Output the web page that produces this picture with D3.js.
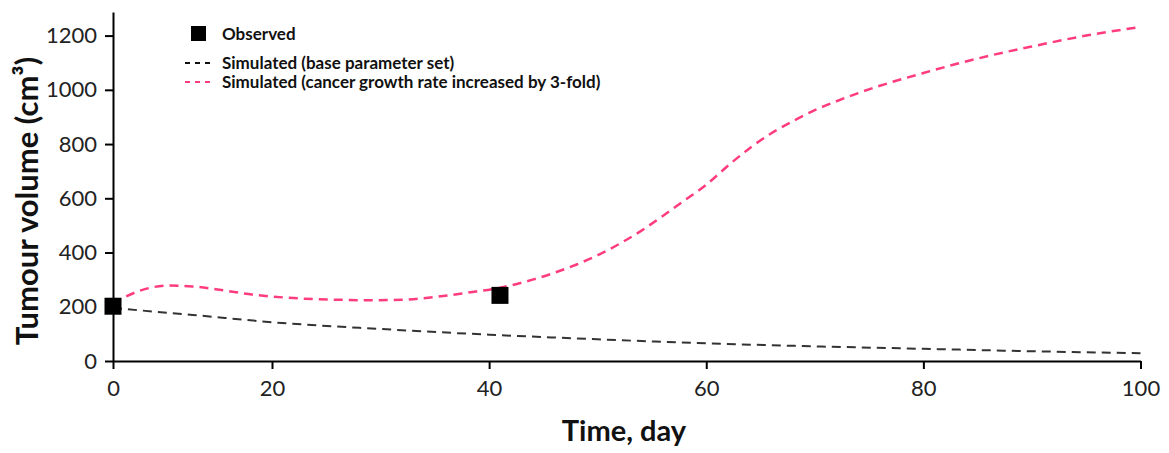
<!DOCTYPE html>
<html>
<head>
<meta charset="utf-8">
<title>Tumour volume</title>
<style type="text/css">
body {
	margin: 0;
	background: #fff;
}
text {
	font-family: Lato, "Open Sans", sans-serif;
}
.axis path, .axis line {
	stroke: #000;
	stroke-width: 2;
}
.axis text {
	font-size: 22px;
	fill: #222;
}
</style>
<script src="https://cdn.jsdelivr.net/npm/d3@7"></script>
</head>
<body>
<div id="chart"></div>

<script type="text/javascript">
	// observed points
	var obsDays = [0, 41];
	var obsVolume = [202, 242];

	// simulated, base parameter set
	var baseDays = [0, 10, 20, 30, 40, 50, 60, 70, 80, 90, 100];
	var baseVolume = [195, 170, 143, 118, 97, 80, 65, 54, 45, 36, 29];

	// simulated, growth rate x3
	var fastDays = [0, 1.5, 4, 7, 10, 14, 17.5, 22, 26, 29, 32, 35, 38, 41, 44, 48, 50, 52, 54, 56, 58, 60, 62, 64, 66, 68, 70, 72, 74, 76, 80, 83, 86, 90, 95, 100];
	var fastVolume = [212, 236, 265, 278, 275, 260, 245, 232, 226, 224, 226, 236, 252, 270, 300, 355, 390, 432, 480, 535, 592, 650, 720, 785, 840, 885, 925, 958, 988, 1015, 1062, 1095, 1125, 1160, 1200, 1232];

	var xTicks = [0, 20, 40, 60, 80, 100];
	var yTicks = [0, 200, 400, 600, 800, 1000, 1200];

	var legendLabels = ['Observed', 'Simulated (base parameter set)', 'Simulated (cancer growth rate increased by 3-fold)'];

	var width = 1169, height = 453;

	var svg = d3.select('#chart').append('svg')
		.attr('width', width)
		.attr('height', height);

	var x = d3.scaleLinear().domain([0, 20, 100]).range([113, 272, 1140.5]);
	var y = d3.scaleLinear().domain([0, 1287]).range([361, 12]);

	svg.append('g')
		.attr('class', 'axis')
		.attr('transform', 'translate(0,' + y(0) + ')')
		.call(d3.axisBottom(x).tickValues(xTicks).tickFormat(d3.format('d'))
			.tickSize(8).tickSizeOuter(0).tickPadding(11));

	svg.append('g')
		.attr('class', 'axis')
		.attr('transform', 'translate(' + x(0) + ',0)')
		.call(d3.axisLeft(y).tickValues(yTicks).tickFormat(d3.format('d'))
			.tickSize(8).tickSizeOuter(0).tickPadding(8));

	// axis titles
	svg.append('text')
		.attr('x', 624)
		.attr('y', 441)
		.attr('text-anchor', 'middle')
		.style('font-size', '29px')
		.style('font-weight', 'bold')
		.attr('fill', '#111')
		.text('Time, day');

	svg.append('text')
		.attr('transform', 'translate(38,201) rotate(-90)')
		.attr('text-anchor', 'middle')
		.style('font-size', '31px')
		.style('font-weight', 'bold')
		.attr('fill', '#111')
		.text('Tumour volume (cm³)');

	var line = d3.line()
		.x(function(d) { return x(d[0]); })
		.y(function(d) { return y(d[1]); })
		.curve(d3.curveMonotoneX);

	svg.append('path')
		.datum(d3.zip(baseDays, baseVolume))
		.attr('d', line)
		.attr('fill', 'none')
		.attr('stroke', '#333')
		.attr('stroke-width', 2)
		.attr('stroke-dasharray', '9,6');

	svg.append('path')
		.datum(d3.zip(fastDays, fastVolume))
		.attr('d', line)
		.attr('fill', 'none')
		.attr('stroke', '#ff3d7c')
		.attr('stroke-width', 2.5)
		.attr('stroke-dasharray', '9,6');

	svg.selectAll('rect.obs')
		.data(d3.zip(obsDays, obsVolume))
		.enter()
		.append('rect')
		.attr('class', 'obs')
		.attr('x', function(d) { return x(d[0]) - 8.5; })
		.attr('y', function(d) { return y(d[1]) - 8.5; })
		.attr('width', 17)
		.attr('height', 17)
		.attr('fill', '#000');

	// legend
	var legend = svg.append('g').attr('transform', 'translate(185,0)');

	legend.append('rect')
		.attr('x', 6).attr('y', 26)
		.attr('width', 15).attr('height', 15)
		.attr('fill', '#000');

	legend.append('line')
		.attr('x1', 0).attr('x2', 28).attr('y1', 63).attr('y2', 63)
		.attr('stroke', '#111').attr('stroke-width', 2).attr('stroke-dasharray', '5,5');

	legend.append('line')
		.attr('x1', 0).attr('x2', 28).attr('y1', 82).attr('y2', 82)
		.attr('stroke', '#ff3d7c').attr('stroke-width', 2).attr('stroke-dasharray', '5,5');

	legend.selectAll('text')
		.data(legendLabels)
		.enter()
		.append('text')
		.attr('x', 37)
		.attr('y', function(d, i) { return [40, 69, 88][i]; })
		.style('font-size', '17px')
		.style('font-weight', 'bold')
		.attr('fill', '#111')
		.text(function(d) { return d; });
</script>
</body>
</html>
